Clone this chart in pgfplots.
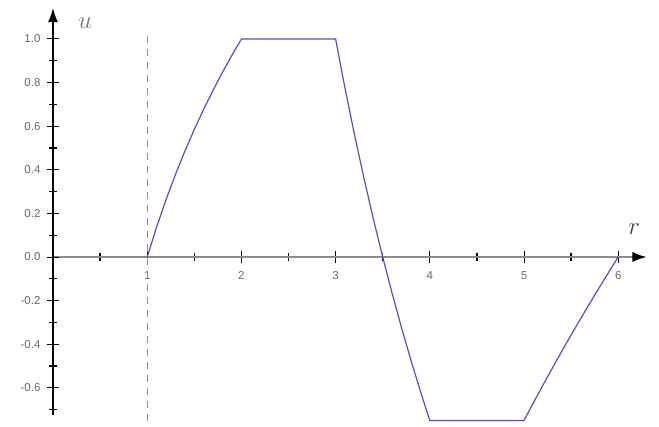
\documentclass[border=0pt]{standalone}
\usepackage{pgfplots}
\pgfplotsset{compat=1.18}
\usepackage{fontspec}
\setmainfont{Liberation Sans}
\usetikzlibrary{arrows.meta}

\definecolor{curveblue}{RGB}{80,80,200}
\definecolor{ticklabel}{RGB}{105,105,105}

% piecewise solution u(r)
\pgfplotstableread{
r     u
1.0   0.0000
1.1   0.1375
1.2   0.2630
1.3   0.3785
1.4   0.4854
1.5   0.5850
1.6   0.6781
1.7   0.7655
1.8   0.8480
1.9   0.9260
2.0   1.0000
3.0   1.0000
3.1   0.7742
3.2   0.5625
3.3   0.3636
3.4   0.1765
3.5   0.0000
3.6  -0.1667
3.7  -0.3243
3.8  -0.4737
3.9  -0.6154
4.0  -0.7500
5.0  -0.7500
5.1  -0.6685
5.2  -0.5887
5.3  -0.5103
5.4  -0.4334
5.5  -0.3579
5.6  -0.2838
5.7  -0.2110
5.8  -0.1395
5.9  -0.0691
6.0   0.0000
}\solution

\begin{document}
\begin{tikzpicture}
\useasboundingbox (-53pt,-169pt) rectangle (606pt,257pt);
\begin{axis}[
  anchor=origin, at={(0pt,0pt)},
  x=94.2pt, y=218pt,
  xmin=0, xmax=6.3, ymin=-0.725, ymax=1.142,
  axis lines=middle,
  clip=false,
  x axis line style={draw=black!45, line width=1.4pt, -{Latex[length=14pt,width=10pt,fill=black,color=black]}},
  y axis line style={draw=black, line width=1.7pt, -{Latex[length=14pt,width=10pt]}},
  xtick={1,2,3,4,5,6},
  minor xtick={0.5,1.5,2.5,3.5,4.5,5.5},
  ytick={-0.6,-0.4,-0.2,0.2,0.4,0.6,0.8,1.0},
  minor ytick={-0.7,-0.5,-0.3,-0.1,0.1,0.3,0.5,0.7,0.9},
  extra y ticks={0},
  extra y tick labels={0.0},
  major tick length=12pt,
  minor tick length=8pt,
  tick align=center,
  every tick/.style={black, line width=1pt},
  minor tick style={black, line width=1.3pt},
  tick label style={font=\fontsize{11.5}{12}\selectfont, text=ticklabel},
  yticklabel style={xshift=-3pt},
  xticklabel style={yshift=-5pt},
  /pgf/number format/assume math mode=true,
  yticklabel={\pgfmathprintnumber[fixed,fixed zerofill,precision=1]{\tick}},
  xticklabel={\pgfmathprintnumber{\tick}},
]
\addplot[dash pattern=on 7pt off 6pt, black!45, line width=0.9pt]
  coordinates {(1,-0.75) (1,1.02)};
\addplot[curveblue, line width=1.2pt] table[x=r, y=u] {\solution};
\node[anchor=center, font=\fontsize{26}{26}\selectfont, text=black!55] at (axis cs:0.34,1.073) {$u$};
\node[anchor=center, font=\fontsize{26}{26}\selectfont, text=black!75] at (axis cs:6.17,0.128) {$r$};
\end{axis}
\end{tikzpicture}
\end{document}
